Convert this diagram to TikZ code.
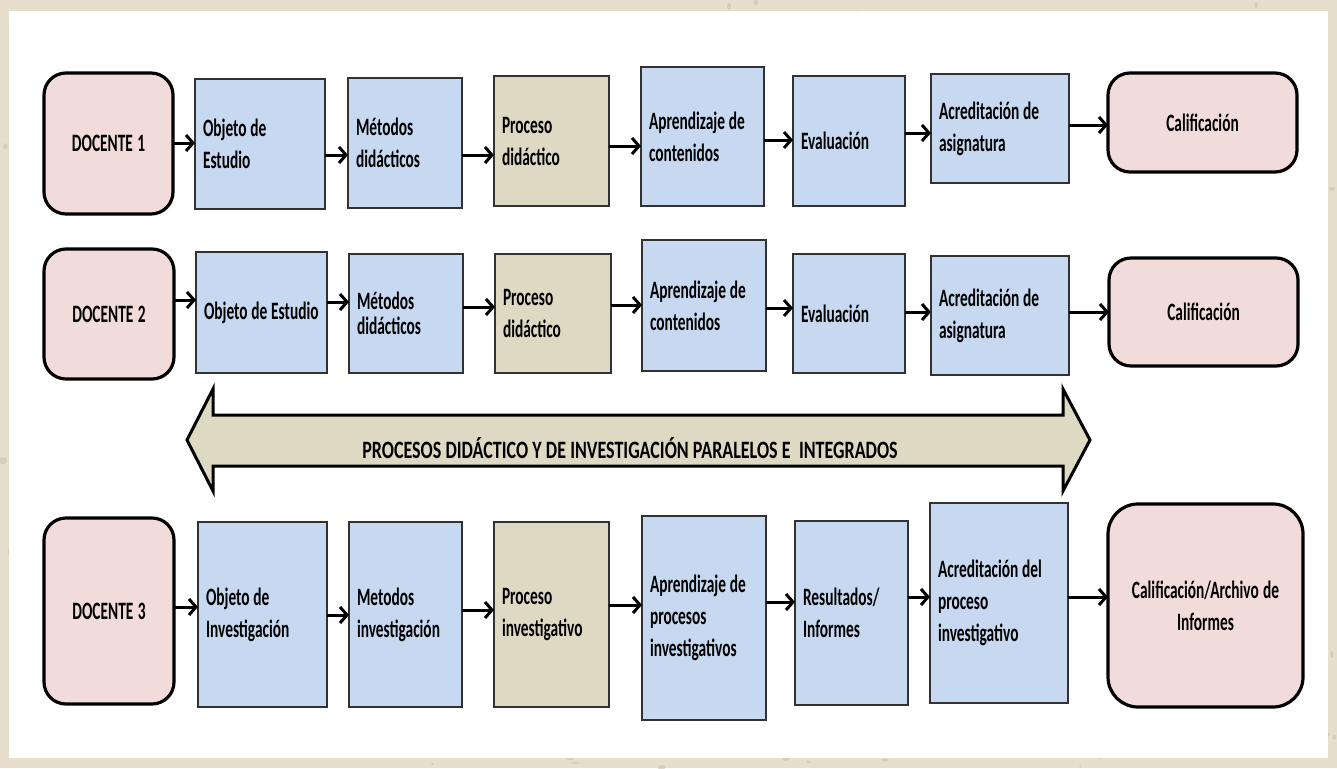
\documentclass[tikz,border=0pt]{standalone}
\usepackage{fontspec}
\usetikzlibrary{arrows.meta}

% Calibri-metric face, narrowed to the condensed look of the labels
\newfontfamily\boxfont{Carlito}[FakeStretch=0.615]
\newfontfamily\bannerfont{Carlito}[FakeStretch=0.72]

\definecolor{paper}{RGB}{232,222,206}
\definecolor{speck}{RGB}{205,192,172}
\definecolor{boxblue}{RGB}{198,217,241}
\definecolor{boxtan}{RGB}{221,217,195}
\definecolor{boxpink}{RGB}{242,220,219}
\definecolor{boxedge}{RGB}{50,50,50}

\newcommand\narrowspaces[1]{\spaceskip=#1 plus 1.5pt minus 1pt\relax}

\tikzset{
  labelfont/.style={font=\boxfont\bfseries\fontsize{25}{32}\selectfont,
    execute at begin node=\narrowspaces{3.8pt}},
  bluebox/.style={rectangle, draw=boxedge, line width=1.5pt, fill=boxblue,
    labelfont, align=left, inner xsep=8pt, inner ysep=0pt, outer sep=0pt},
  tanbox/.style={bluebox, fill=boxtan},
  pinkbox/.style={rectangle, draw=black, line width=3.2pt, fill=boxpink,
    rounded corners=22pt, labelfont, align=center, inner xsep=8pt,
    inner ysep=0pt, outer sep=0pt},
  conn/.style={draw=black, line width=3pt,
    -{Straight Barb[length=7pt,width=16pt,line cap=butt]}},
  banner/.style={draw=black, line width=3pt, fill=boxtan, line join=miter},
}

% box given by its corners: style, name, x1, y1, x2, y2, label
\newcommand\boxnode[7]{%
  \pgfmathsetmacro\bw{#5-#3}\pgfmathsetmacro\bh{#6-#4}%
  \pgfmathsetmacro\bxc{(#3+#5)/2}\pgfmathsetmacro\byc{(#4+#6)/2}%
  \pgfmathsetmacro\btw{\bw-16}%
  \node[#1, minimum width=\bw pt, minimum height=\bh pt, text width=\btw pt]
    (#2) at (\bxc,\byc) {#7};}

% horizontal connector between two boxes at height y
\newcommand\link[3]{\draw[conn] (#1.east |- 0,#3) -- (#2.west |- 0,#3);}

\begin{document}
\begin{tikzpicture}[x=1pt,y=-1pt]
\useasboundingbox (0,0) rectangle (1337,768);

% parchment frame and white sheet
\fill[paper] (0,0) rectangle (1337,768);
\pgfmathsetseed{7}
\foreach \i in {1,...,400}{
  \pgfmathsetmacro\px{rnd*1337}\pgfmathsetmacro\py{rnd*768}
  \fill[speck, opacity=0.6] (\px,\py) ellipse ({1+rnd*4} and {1+rnd*3});
}
\fill[white] (9,11) rectangle (1328,758);

% ---- teacher 1 ----
\boxnode{pinkbox}{d1}{44}{73}{173}{214}{DOCENTE 1}
\boxnode{bluebox}{a1}{195}{79}{325}{209}{Objeto de\\Estudio}
\boxnode{bluebox}{b1}{348}{78}{462}{208}{Métodos\\didácticos}
\boxnode{tanbox}{c1}{494}{76}{609}{206}{Proceso\\didáctico}
\boxnode{bluebox}{e1}{641}{67}{764}{206}{Aprendizaje de\\contenidos}
\boxnode{bluebox}{f1}{793}{76}{905}{206}{Evaluación}
\boxnode{bluebox}{g1}{931}{74}{1069}{183}{Acreditación de\\asignatura}
\boxnode{pinkbox}{h1}{1108}{73}{1297}{172}{Calificación}

\link{d1}{a1}{143}
\link{a1}{b1}{155}
\link{b1}{c1}{155}
\link{c1}{e1}{146}
\link{e1}{f1}{140}
\link{f1}{g1}{133}
\link{g1}{h1}{125}

% ---- teacher 2 ----
\boxnode{pinkbox}{d2}{44}{249}{174}{379}{DOCENTE 2}
\boxnode{bluebox}{a2}{196}{252}{327}{373}{\mbox{Objeto de Estudio}}
\boxnode{bluebox}{b2}{349}{254}{463}{373}{Métodos\\[-7pt]didácticos}
\boxnode{tanbox}{c2}{495}{254}{611}{373}{Proceso\\didáctico}
\boxnode{bluebox}{e2}{642}{240}{766}{371}{Aprendizaje de\\contenidos}
\boxnode{bluebox}{f2}{793}{254}{905}{373}{Evaluación}
\boxnode{bluebox}{g2}{931}{256}{1069}{375}{Acreditación de\\asignatura}
\boxnode{pinkbox}{h2}{1109}{258}{1298}{366}{Calificación}

\link{d2}{a2}{300}
\link{a2}{b2}{302}
\link{b2}{c2}{307}
\link{c2}{e2}{305}
\link{e2}{f2}{308}
\link{f2}{g2}{312}
\link{g2}{h2}{312}

% ---- double banner arrow ----
\draw[banner] (187,440) -- (213,389) -- (213,415) -- (1063,415) -- (1063,389)
  -- (1090,440) -- (1063,491) -- (1063,466) -- (213,466) -- (213,491) -- cycle;
\node[font=\bannerfont\bfseries\fontsize{25}{30}\selectfont, anchor=base,
  inner sep=0pt, execute at begin node=\narrowspaces{4.2pt}] (banner) at (630,458)
  {PROCESOS DIDÁCTICO Y DE INVESTIGACIÓN PARALELOS E\ \ INTEGRADOS};

% ---- teacher 3 ----
\boxnode{pinkbox}{d3}{44}{518}{174}{704}{DOCENTE 3}
\boxnode{bluebox}{a3}{198}{522}{327}{707}{Objeto de\\Investigación}
\boxnode{bluebox}{b3}{349}{522}{462}{707}{Metodos\\investigación}
\boxnode{tanbox}{c3}{494}{522}{609}{707}{Proceso\\investigativo}
\boxnode{bluebox}{e3}{642}{516}{766}{720}{Aprendizaje de\\procesos\\investigativos}
\boxnode{bluebox}{f3}{795}{521}{908}{705}{Resultados/\\Informes}
\boxnode{bluebox}{g3}{930}{503}{1068}{703}{Acreditación del\\proceso\\investigativo}
\boxnode{pinkbox, rounded corners=30pt}{h3}{1108}{504}{1303}{707}{Calificación/Archivo de\\Informes}

\link{d3}{a3}{607}
\link{a3}{b3}{615}
\link{b3}{c3}{610}
\link{c3}{e3}{605}
\link{e3}{f3}{602}
\link{f3}{g3}{597}
\link{g3}{h3}{597}
\end{tikzpicture}
\end{document}
